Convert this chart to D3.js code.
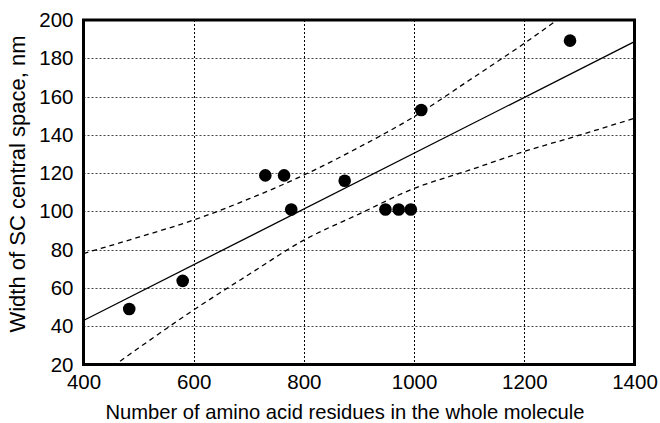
<!DOCTYPE html>
<html><head><meta charset="utf-8">
<script src="https://cdn.jsdelivr.net/npm/d3@7"></script>
<style>body{margin:0;background:#fff}svg{display:block}text{font-family:"Liberation Sans",Arial,Helvetica,sans-serif;fill:#000}</style>
</head><body><svg id="c" width="660" height="423"></svg>
<script>
const residues = [483, 580, 730, 764, 777, 874, 948, 972, 994, 1013, 1283];
const widths   = [49, 63.7, 118.8, 118.8, 101, 116, 101, 101, 101, 153, 189.2];
const fitX = [400, 1400];
const fitY = [43, 188.7];
const upperX = [400, 500, 600, 700, 800, 900, 1000, 1100, 1200, 1300];
const upperY = [78, 86.5, 95.5, 106.5, 119, 133.5, 149.5, 168.5, 187.8, 208.5];
const lowerX = [400, 500, 600, 700, 800, 900, 1000, 1100, 1200, 1300, 1400];
const lowerY = [8, 28.6, 48.5, 67, 85, 98.6, 112, 121.5, 131.3, 139.8, 148.7];
const xTicks = [400, 600, 800, 1000, 1200, 1400];
const yTicks = [20, 40, 60, 80, 100, 120, 140, 160, 180, 200];
const xTitle = "Number of amino acid residues in the whole molecule";
const yTitle = "Width of SC central space, nm";

const svg = d3.select("#c");
const L = 83.5, R = 634.5, T = 20, B = 364.5;
const x = d3.scaleLinear().domain([400, 1400]).range([L, R]);
const y = d3.scaleLinear().domain([20, 200]).range([B, T]);

svg.append("defs").append("clipPath").attr("id", "clip")
  .append("rect").attr("x", L).attr("y", T).attr("width", R - L).attr("height", B - T);

// grid
const g = svg.append("g");
g.selectAll(".hg").data(yTicks.filter(d => d > 20 && d < 200)).join("line")
  .attr("x1", L).attr("x2", R).attr("y1", d => Math.round(y(d)) + 0.5).attr("y2", d => Math.round(y(d)) + 0.5)
  .attr("stroke", "#444").attr("stroke-width", 1).attr("stroke-dasharray", "2,2");
g.selectAll(".vg").data(xTicks.filter(d => d > 400 && d < 1400)).join("line")
  .attr("y1", T).attr("y2", B).attr("x1", d => Math.round(x(d)) + 0.5).attr("x2", d => Math.round(x(d)) + 0.5)
  .attr("stroke", "#000").attr("stroke-width", 1).attr("stroke-dasharray", "2,2");

const plot = svg.append("g").attr("clip-path", "url(#clip)");
const line = d3.line().x(d => x(d[0])).y(d => y(d[1])).curve(d3.curveMonotoneX);
plot.append("path").datum(fitX.map((v, i) => [v, fitY[i]])).attr("d", line)
  .attr("fill", "none").attr("stroke", "#000").attr("stroke-width", 1.3);
plot.append("path").datum(upperX.map((v, i) => [v, upperY[i]])).attr("d", line)
  .attr("fill", "none").attr("stroke", "#000").attr("stroke-width", 1.3).attr("stroke-dasharray", "5,4");
plot.append("path").datum(lowerX.map((v, i) => [v, lowerY[i]])).attr("d", line)
  .attr("fill", "none").attr("stroke", "#000").attr("stroke-width", 1.3).attr("stroke-dasharray", "5,4");

svg.append("g").selectAll("circle").data(residues).join("circle")
  .attr("cx", d => x(d)).attr("cy", (d, i) => y(widths[i])).attr("r", 6.3).attr("fill", "#000");

// frame
svg.append("rect").attr("x", L).attr("y", T).attr("width", R - L).attr("height", B - T)
  .attr("fill", "none").attr("stroke", "#000").attr("stroke-width", 3);

// axes
const xa = svg.append("g").attr("transform", `translate(0,${B})`)
  .call(d3.axisBottom(x).tickValues(xTicks).tickSize(0).tickPadding(10).tickFormat(d3.format("d")));
const ya = svg.append("g").attr("transform", `translate(${L},0)`)
  .call(d3.axisLeft(y).tickValues(yTicks).tickSize(0).tickPadding(10).tickFormat(d3.format("d")));
[xa, ya].forEach(a => { a.select(".domain").remove(); a.selectAll("text").attr("font-size", 20.5).attr("font-family", null); });

svg.append("text").attr("x", 345).attr("y", 418.5).attr("text-anchor", "middle")
  .attr("font-size", 20.2).text(xTitle);
svg.append("text").attr("transform", `translate(24.5,184) rotate(-90)`).attr("text-anchor", "middle")
  .attr("font-size", 22).text(yTitle);
</script></body></html>
